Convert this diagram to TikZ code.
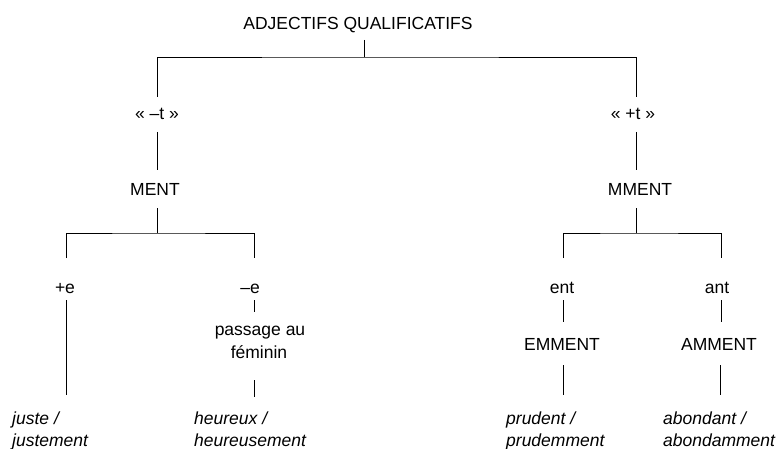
\documentclass[tikz,border=0pt]{standalone}
\usepackage{fontspec}
\setmainfont{Liberation Sans}
\usetikzlibrary{calc}
\tikzset{
  lbl/.style={inner sep=0pt, anchor=base, font=\fontsize{17.5}{21}\selectfont},
  ex/.style={inner sep=0pt, anchor=base west, font=\fontsize{17.5}{21}\selectfont\itshape},
  conn/.style={draw=black, line width=0.9pt}
}
\begin{document}
\begin{tikzpicture}[x=1pt,y=-1pt]
\useasboundingbox (0,0) rectangle (778,449);
% nodes
\node[lbl] (title) at (358,30) {ADJECTIFS QUALIFICATIFS};
\node[lbl] (mt) at (157,120) {« –t »};
\node[lbl] (pt) at (633,120) {« +t »};
\node[lbl] (ment) at (155,195) {MENT};
\node[lbl] (mment) at (640,195) {MMENT};
\node[lbl] (pe) at (65,293) {+e};
\node[lbl] (me) at (250,293) {–e};
\node[lbl] (ent) at (562,293) {ent};
\node[lbl] (ant) at (717,293) {ant};
\node[lbl] (pass1) at (260,335) {passage au};
\node[lbl] (pass2) at (259,358) {féminin};
\node[lbl] (emm) at (562,350) {EMMENT};
\node[lbl] (amm) at (719,350) {AMMENT};
\node[ex] (juste1) at (12,424) {juste /};
\node[ex] (juste2) at (12,446) {justement};
\node[ex] (heur1) at (194,424) {heureux /};
\node[ex] (heur2) at (194,446) {heureusement};
\node[ex] (prud1) at (506,424) {prudent /};
\node[ex] (prud2) at (506,446) {prudemment};
\node[ex] (abon1) at (663,424) {abondant /};
\node[ex] (abon2) at (663,446) {abondamment};
% branch points
\coordinate (c1) at (364,57);
\coordinate (c2) at (157,233);
\coordinate (c3) at (636,233);
% connectors
\draw[conn] ($(title.base)+(6,10)$) -- (c1);
\draw[conn] ($(mt.base)+(0,-23)$) |- (c1) -| ($(pt.base)+(3,-23)$);
\draw[conn] ($(mt.base)+(0,12)$) -- ($(ment.base)+(2,-25)$);
\draw[conn] ($(pt.base)+(3,12)$) -- ($(mment.base)+(-4,-25)$);
\draw[conn] ($(ment.base)+(2,13)$) -- (c2);
\draw[conn] ($(mment.base)+(-4,13)$) -- (c3);
\draw[conn] ($(pe.base)+(1,-35)$) |- (c2) -| ($(me.base)+(4,-35)$);
\draw[conn] ($(ent.base)+(1,-35)$) |- (c3) -| ($(ant.base)+(4,-35)$);
\draw[conn] ($(pe.base)+(1,7)$) -- ($(juste1.base west)+(54,-29)$);
\draw[conn] ($(me.base)+(4,7)$) -- ($(pass1.base)+(-6,-23)$);
\draw[conn] ($(pass2.base)+(-5,22)$) -- ($(heur1.base west)+(60,-27)$);
\draw[conn] ($(ent.base)+(1,7)$) -- ($(emm.base)+(1,-28)$);
\draw[conn] ($(ant.base)+(4,7)$) -- ($(amm.base)+(2,-28)$);
\draw[conn] ($(emm.base)+(1,15)$) -- ($(prud1.base west)+(57,-29)$);
\draw[conn] ($(amm.base)+(1,15)$) -- ($(abon1.base west)+(57,-29)$);
\end{tikzpicture}
\end{document}
